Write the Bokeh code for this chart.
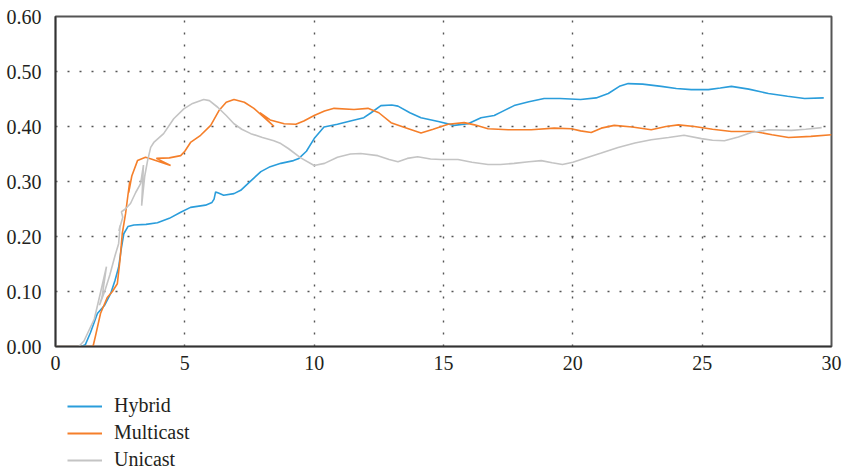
from bokeh.plotting import figure
from bokeh.layouts import column
from bokeh.models import Legend, LegendItem, Range1d, FixedTicker, NumeralTickFormatter
from bokeh.embed import file_html
from bokeh.resources import INLINE

# ---- data ----
hybrid_x = [0, 1.0, 1.15, 1.35, 1.62, 1.9, 2.13, 2.3, 2.44, 2.55, 2.64, 2.8, 3.03, 3.5, 3.94,
            4.4, 4.84, 5.22, 5.8, 6.05, 6.13, 6.19, 6.3, 6.5, 6.9, 7.16, 7.5, 7.94, 8.3, 8.71,
            9.2, 9.41, 9.7, 10.0, 10.38, 10.9, 11.4, 11.92, 12.2, 12.58, 13.0, 13.24, 13.7,
            14.13, 14.8, 15.41, 15.95, 16.45, 16.96, 17.3, 17.73, 18.3, 18.89, 19.5, 20.3,
            20.9, 21.37, 21.8, 22.14, 22.7, 23.42, 24.0, 24.58, 25.24, 25.7, 26.13, 26.8,
            27.56, 28.3, 28.96, 29.7]
hybrid_y = [0, 0, 0.003, 0.025, 0.06, 0.075, 0.096, 0.12, 0.144, 0.18, 0.205, 0.218, 0.221,
            0.222, 0.225, 0.233, 0.244, 0.253, 0.257, 0.262, 0.268, 0.281, 0.279, 0.275, 0.278,
            0.284, 0.299, 0.318, 0.327, 0.333, 0.338, 0.342, 0.355, 0.378, 0.399, 0.404, 0.41,
            0.416, 0.425, 0.438, 0.439, 0.437, 0.425, 0.416, 0.409, 0.402, 0.405, 0.416, 0.42,
            0.428, 0.438, 0.445, 0.451, 0.451, 0.449, 0.452, 0.46, 0.473, 0.478, 0.477, 0.473,
            0.469, 0.467, 0.467, 0.47, 0.473, 0.468, 0.46, 0.455, 0.451, 0.452]

multicast_x = [0, 1.45, 1.55, 1.74, 2.0, 2.2, 2.39, 2.5, 2.58, 2.71, 2.8, 2.87, 2.83, 2.95,
               3.17, 3.48, 3.7, 4.45, 3.9, 4.4, 4.84, 5.0, 5.22, 5.61, 6.0, 6.32, 6.6, 6.9,
               7.3, 7.67, 8.45, 7.9, 8.3, 8.84, 9.29, 9.6, 10.0, 10.4, 10.77, 11.54, 12.08,
               12.5, 12.97, 13.5, 14.13, 14.6, 15.18, 15.8, 16.2, 16.72, 17.5, 18.39, 19.28,
               19.94, 20.3, 20.71, 21.1, 21.6, 22.3, 23.03, 23.6, 24.08, 24.7, 25.4, 26.13,
               27.02, 27.7, 28.34, 29.2, 30.0]
multicast_y = [0, 0, 0.02, 0.06, 0.089, 0.1, 0.114, 0.16, 0.205, 0.242, 0.275, 0.3, 0.28,
               0.31, 0.338, 0.344, 0.341, 0.329, 0.342, 0.343, 0.347, 0.355, 0.371, 0.384,
               0.402, 0.429, 0.444, 0.449, 0.444, 0.433, 0.40, 0.425, 0.412, 0.405, 0.404,
               0.41, 0.42, 0.428, 0.433, 0.431, 0.433, 0.425, 0.407, 0.398, 0.388, 0.395,
               0.404, 0.407, 0.403, 0.396, 0.394, 0.394, 0.397, 0.396, 0.392, 0.389, 0.397,
               0.402, 0.399, 0.394, 0.4, 0.403, 0.4, 0.395, 0.391, 0.391, 0.385, 0.38, 0.382,
               0.385]

unicast_x = [0, 0.9, 1.1, 1.3, 1.5, 1.75, 1.97, 1.8, 1.7, 1.9, 2.1, 2.3, 2.44, 2.5, 2.45, 2.6,
             2.55, 2.7, 2.9, 3.1, 3.29, 3.4, 3.33, 3.45, 3.56, 3.68, 3.8, 4.18, 4.57, 4.96,
             5.3, 5.73, 5.95, 6.27, 6.6, 6.9, 7.2, 7.55, 8.0, 8.44, 8.71, 9.0, 9.48, 10.0,
             10.4, 10.9, 11.4, 11.8, 12.46, 12.9, 13.24, 13.6, 14.0, 14.5, 14.9, 15.56, 16.1,
             16.72, 17.2, 17.73, 18.3, 18.78, 19.2, 19.6, 20.0, 20.44, 21.1, 21.75, 22.4,
             23.03, 23.7, 24.3, 24.97, 25.4, 25.86, 26.4, 26.9, 27.56, 28.45, 29.0, 29.62]
unicast_y = [0, 0, 0.01, 0.03, 0.05, 0.1, 0.145, 0.09, 0.075, 0.1, 0.13, 0.165, 0.187, 0.22,
             0.21, 0.235, 0.245, 0.25, 0.26, 0.28, 0.296, 0.33, 0.256, 0.31, 0.338, 0.362,
             0.371, 0.387, 0.414, 0.432, 0.442, 0.449, 0.447, 0.435, 0.42, 0.405, 0.395,
             0.387, 0.38, 0.374, 0.369, 0.36, 0.343, 0.329, 0.333, 0.344, 0.35, 0.351, 0.347,
             0.34, 0.336, 0.342, 0.345, 0.341, 0.34, 0.34, 0.335, 0.331, 0.331, 0.333, 0.336,
             0.338, 0.334, 0.331, 0.335, 0.342, 0.352, 0.362, 0.37, 0.376, 0.38, 0.384, 0.378,
             0.375, 0.374, 0.381, 0.389, 0.394, 0.393, 0.395, 0.398]

x_ticks = [0, 5, 10, 15, 20, 25, 30]
y_ticks = [0.0, 0.1, 0.2, 0.3, 0.4, 0.5, 0.6]
series_names = ["Hybrid", "Multicast", "Unicast"]
colors = ["#2a9ddb", "#f57f2a", "#c4c4c4"]

FONT = "'Liberation Serif', 'DejaVu Serif', serif"
TXT = "#231f20"

p = figure(width=844, height=380, output_backend="svg", toolbar_location=None,
           x_range=Range1d(0, 30), y_range=Range1d(0, 0.6),
           min_border_left=55, min_border_top=16, min_border_right=13, min_border_bottom=34)

p.background_fill_color = "white"
p.border_fill_color = "white"
p.outline_line_color = "#555555"
p.outline_line_width = 2

for ax in (p.xaxis[0], p.yaxis[0]):
    ax.axis_line_color = "#333333"
    ax.axis_line_width = 1.6
    ax.major_tick_line_color = None
    ax.minor_tick_line_color = None
    ax.major_label_text_font = FONT
    ax.major_label_text_font_size = "20px"
    ax.major_label_text_color = TXT

p.xaxis.ticker = FixedTicker(ticks=x_ticks)
p.yaxis.ticker = FixedTicker(ticks=y_ticks)
p.yaxis.formatter = NumeralTickFormatter(format="0.00")
p.xaxis.major_label_standoff = 3
p.yaxis.major_label_standoff = 8

p.xgrid.ticker = FixedTicker(ticks=x_ticks[1:-1])
p.ygrid.ticker = FixedTicker(ticks=y_ticks[1:-1])
for g in (p.xgrid[0], p.ygrid[0]):
    g.grid_line_color = "#555555"
    g.grid_line_width = 1.4
    g.grid_line_dash = "2 10"

series = [(hybrid_x, hybrid_y), (multicast_x, multicast_y), (unicast_x, unicast_y)]
for (xs, ys), c in zip(series, colors):
    p.line(xs, ys, line_color=c, line_width=1.6)

# legend panel below the chart (its frame is aligned with the chart's frame)
p2 = figure(width=844, height=91, output_backend="svg", toolbar_location=None,
            x_range=Range1d(0, 1), y_range=Range1d(0, 1),
            min_border_left=0, min_border_right=0, min_border_top=0, min_border_bottom=0)
p2.axis.visible = False
p2.grid.visible = False
p2.outline_line_color = None
p2.background_fill_color = "white"
p2.border_fill_color = "white"

items = []
for name, c in zip(series_names, colors):
    # legend-only renderers, placed outside the visible range
    r = p2.line(x=[-2, -1], y=[-2, -2], line_color=c, line_width=2)
    items.append(LegendItem(label=name, renderers=[r]))

legend = Legend(items=items, location=(12, 0), orientation="vertical",
                padding=0, margin=0, spacing=4, glyph_width=35, glyph_height=22,
                label_height=22, label_standoff=12,
                label_text_font=FONT, label_text_font_size="20px", label_text_color=TXT,
                background_fill_alpha=0, border_line_alpha=0)
p2.add_layout(legend, "center")

layout = column(p, p2, spacing=0)
open("out.html", "w").write(file_html(layout, INLINE))
